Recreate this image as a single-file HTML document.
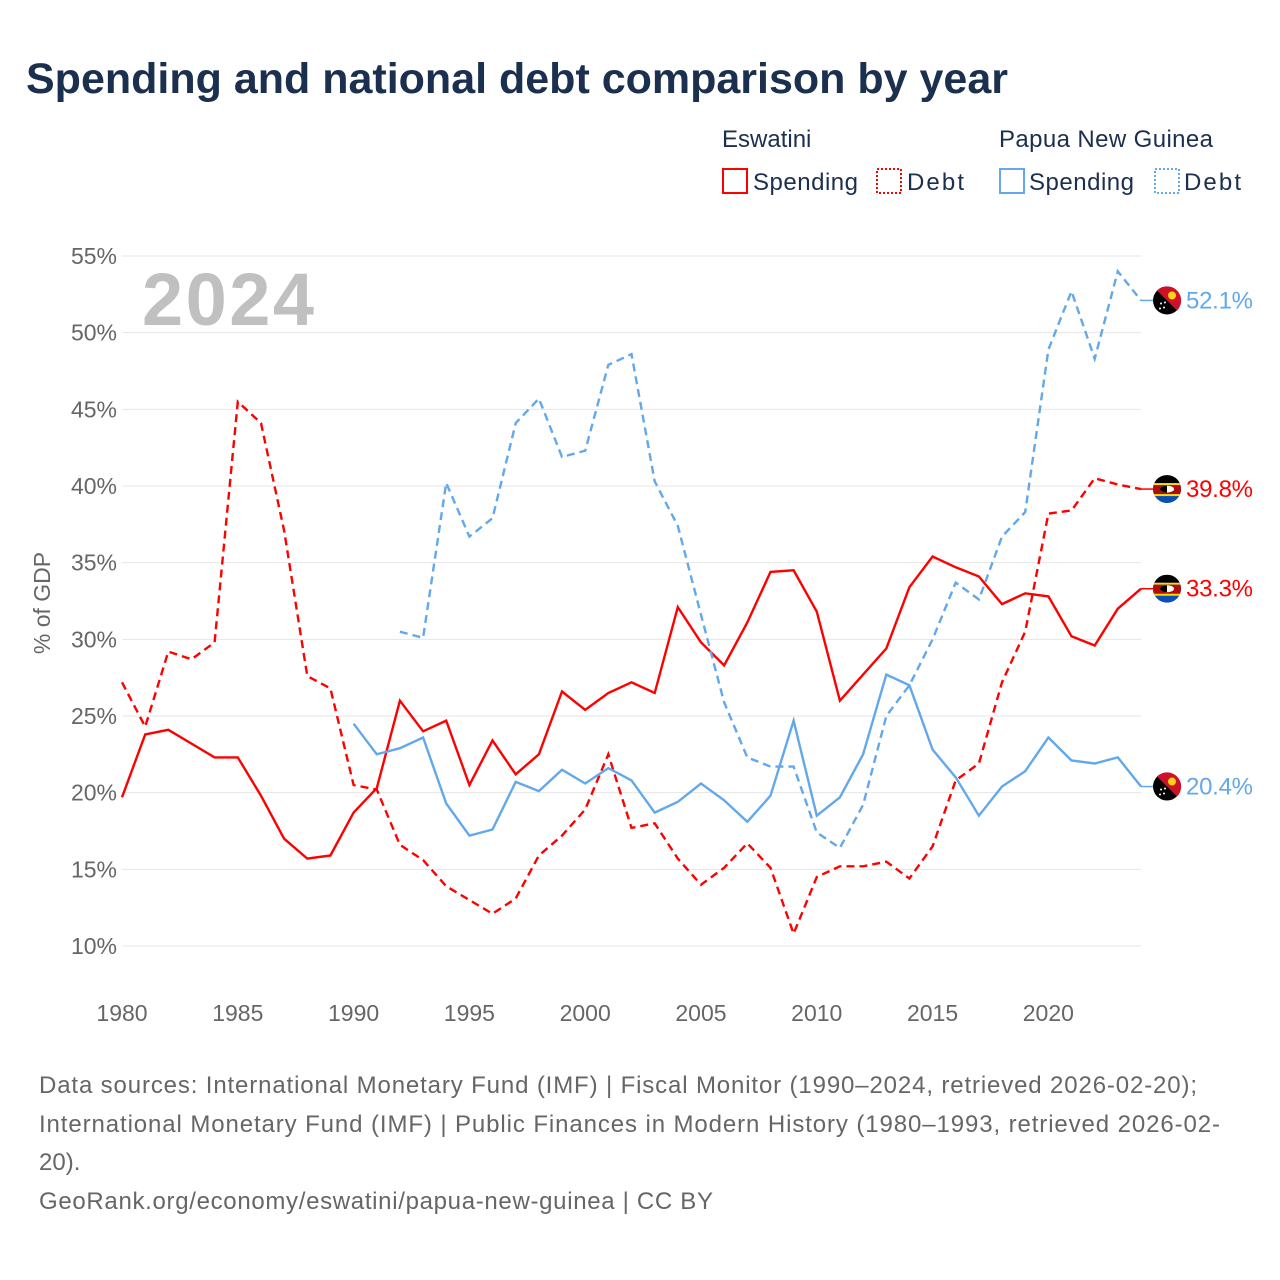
<!DOCTYPE html>
<html><head><meta charset="utf-8">
<style>
body{margin:0;background:#fff;font-family:"Liberation Sans",sans-serif;}
#wrap{position:relative;width:1280px;height:1280px;overflow:hidden;}
svg text{font-family:"Liberation Sans",sans-serif;}
</style></head>
<body>
<div id="wrap">
<svg id="chart" width="1280" height="1280" viewBox="0 0 1280 1280">
<defs><clipPath id="fc"><circle cx="0" cy="0" r="14"/></clipPath></defs>
<text x="26" y="93" font-size="43" font-weight="bold" fill="#1b2f4e">Spending and national debt comparison by year</text>
<g>
<text x="722" y="147" font-size="24" fill="#1b2f4e">Eswatini</text>
<text x="999" y="147" font-size="24" fill="#1b2f4e" textLength="214">Papua New Guinea</text>
<g><rect x="723" y="169" width="24" height="24" fill="none" stroke="#f00" stroke-width="2"/><text x="753" y="190" font-size="24" fill="#1b2f4e" textLength="105">Spending</text></g>
<g><rect x="877" y="169" width="24" height="24" fill="none" stroke="#f00" stroke-width="2" stroke-dasharray="2,2"/><text x="907" y="190" font-size="24" fill="#1b2f4e" textLength="57">Debt</text></g>
<g><rect x="1000" y="169" width="24" height="24" fill="none" stroke="#62a8ea" stroke-width="2"/><text x="1029" y="190" font-size="24" fill="#1b2f4e" textLength="105">Spending</text></g>
<g><rect x="1155" y="169" width="24" height="24" fill="none" stroke="#62a8ea" stroke-width="2" stroke-dasharray="2,2"/><text x="1184" y="190" font-size="24" fill="#1b2f4e" textLength="57">Debt</text></g>
</g>
<g id="grid"></g>
<text x="142" y="325" font-size="74" font-weight="bold" fill="#c0c0c0" textLength="172">2024</text>
<text transform="translate(50,603) rotate(-90)" text-anchor="middle" font-size="23" fill="#666">% of GDP</text>
<g id="series"></g>
<g id="ends"></g>
<g font-size="24" fill="#666">
<text x="39" y="1093" textLength="1158">Data sources: International Monetary Fund (IMF) | Fiscal Monitor (1990–2024, retrieved 2026-02-20);</text>
<text x="39" y="1132" textLength="1181">International Monetary Fund (IMF) | Public Finances in Modern History (1980–1993, retrieved 2026-02-</text>
<text x="39" y="1170">20).</text>
<text x="39" y="1209" textLength="674">GeoRank.org/economy/eswatini/papua-new-guinea | CC BY</text>
</g>
</svg>
</div>
<script>
const yTicks = [10,15,20,25,30,35,40,45,50,55];
const xTicks = [1980,1985,1990,1995,2000,2005,2010,2015,2020];
const szSpendStart = 1980;
const szSpending = [19.7,23.8,24.1,23.2,22.3,22.3,19.8,17.0,15.7,15.9,18.7,20.3,26.0,24.0,24.7,20.5,23.4,21.2,22.5,26.6,25.4,26.5,27.2,26.5,32.1,29.8,28.3,31.1,34.4,34.5,31.8,26.0,27.7,29.4,33.4,35.4,34.7,34.1,32.3,33.0,32.8,30.2,29.6,32.0,33.3];
const szDebtStart = 1980;
const szDebt = [27.2,24.3,29.2,28.7,29.8,45.5,44.1,37.1,27.6,26.8,20.5,20.2,16.6,15.6,13.9,13.0,12.1,13.1,15.9,17.2,18.9,22.5,17.7,18.0,15.7,14.0,15.1,16.7,15.1,10.8,14.5,15.2,15.2,15.5,14.4,16.5,20.8,21.9,27.2,30.5,38.2,38.4,40.5,40.1,39.8];
const pgSpendStart = 1990;
const pgSpending = [24.5,22.5,22.9,23.6,19.3,17.2,17.6,20.7,20.1,21.5,20.6,21.6,20.8,18.7,19.4,20.6,19.5,18.1,19.8,24.7,18.5,19.7,22.5,27.7,27.0,22.8,21.0,18.5,20.4,21.4,23.6,22.1,21.9,22.3,20.4];
const pgDebtStart = 1992;
const pgDebt = [30.5,30.1,40.2,36.7,37.9,44.1,45.7,41.9,42.3,47.9,48.6,40.3,37.4,31.6,25.9,22.3,21.7,21.7,17.4,16.4,19.2,25.0,27.0,30.0,33.7,32.6,36.7,38.3,48.9,52.7,48.3,54.0,52.1];

const NS='http://www.w3.org/2000/svg';
const X0=122,X1=1141,Y0=946,Y1=256;
function xs(yr){return X0+(yr-1980)*(X1-X0)/44;}
function ys(v){return Y0-(v-10)*(Y0-Y1)/45;}
function mk(tag,attrs,parent){const e=document.createElementNS(NS,tag);for(const k in attrs)e.setAttribute(k,attrs[k]);parent.appendChild(e);return e;}

const grid=document.getElementById('grid');
yTicks.forEach(t=>{
  const l=mk('line',{x1:X0,x2:X1,y1:ys(t),y2:ys(t),stroke:'#e6e6e6','stroke-width':1},grid);
  
  
  const tx=mk('text',{x:117,y:ys(t)+8,'text-anchor':'end','font-size':23,fill:'#666'},grid);
  tx.textContent=t+'%';
  
  
});
xTicks.forEach(t=>{
  const tx=mk('text',{x:xs(t),y:1021,'text-anchor':'middle','font-size':23,fill:'#666'},grid);
  tx.textContent=t;
  
  
});

const sg=document.getElementById('series');
function drawLine(data,start,color,dash,name){
  const pts=data.map((v,i)=>xs(start+i).toFixed(1)+','+ys(v).toFixed(1)).join(' ');
  const p=mk('polyline',{points:pts,fill:'none',stroke:color,'stroke-width':2.4,'stroke-linejoin':'miter'},sg);
  if(dash)p.setAttribute('stroke-dasharray','8,5');
  
  
}
drawLine(szDebt,szDebtStart,'#ff0000',true,'line-eswatini-debt');
drawLine(szSpending,szSpendStart,'#ff0000',false,'line-eswatini-spending');
drawLine(pgDebt,pgDebtStart,'#62a8ea',true,'line-png-debt');
drawLine(pgSpending,pgSpendStart,'#62a8ea',false,'line-png-spending');

const eg=document.getElementById('ends');
function flagPNG(g){
  mk('circle',{cx:0,cy:0,r:14,fill:'#000'},g);
  mk('path',{d:'M-10,-10 L10,10 A14,14 0 0 0 -10,-10 Z',fill:'#ce1126'},g);
  mk('circle',{cx:5,cy:-5,r:4,fill:'#fcd116'},g);
  [[-6,3],[-3,7],[-7,8],[-2,2]].forEach(d=>mk('circle',{cx:d[0],cy:d[1],r:1,fill:'#fff'},g));
}
function flagSZ(g){
  const c=mk('g',{'clip-path':'url(#fc)'},g);
  mk('rect',{x:-14,y:-14,width:28,height:28,fill:'#0a50b4'},c);
  mk('rect',{x:-14,y:-14,width:28,height:8,fill:'#000'},c);
  mk('rect',{x:-14,y:-6,width:28,height:2,fill:'#ffd900'},c);
  mk('rect',{x:-14,y:-4,width:28,height:9,fill:'#b10c0c'},c);
  mk('rect',{x:-14,y:5,width:28,height:2,fill:'#ffd900'},c);
  mk('ellipse',{cx:0,cy:0,rx:7,ry:3.5,fill:'#fff'},c);
  mk('path',{d:'M-7,0 A7,3.5 0 0 1 0,-3.5 L0,3.5 A7,3.5 0 0 1 -7,0Z',fill:'#000'},c);
}
function endLabel(val,color,isPNG,name){
  const g=mk('g',{},eg);
  
  
  const y=ys(val);
  mk('line',{x1:X1,x2:1153,y1:y,y2:y,stroke:color,'stroke-width':1.5},g);
  const f=mk('g',{transform:`translate(1167,${y})`},g);
  if(isPNG)flagPNG(f);else flagSZ(f);
  const t=mk('text',{x:1186,y:y+8,'font-size':24,fill:color,textLength:67},g);
  t.textContent=val.toFixed(1)+'%';
}
endLabel(pgDebt[pgDebt.length-1],'#62a8ea',true,'end-label-png-debt');
endLabel(szDebt[szDebt.length-1],'#ff0000',false,'end-label-eswatini-debt');
endLabel(szSpending[szSpending.length-1],'#ff0000',false,'end-label-eswatini-spending');
endLabel(pgSpending[pgSpending.length-1],'#62a8ea',true,'end-label-png-spending');
</script>
</body></html>
